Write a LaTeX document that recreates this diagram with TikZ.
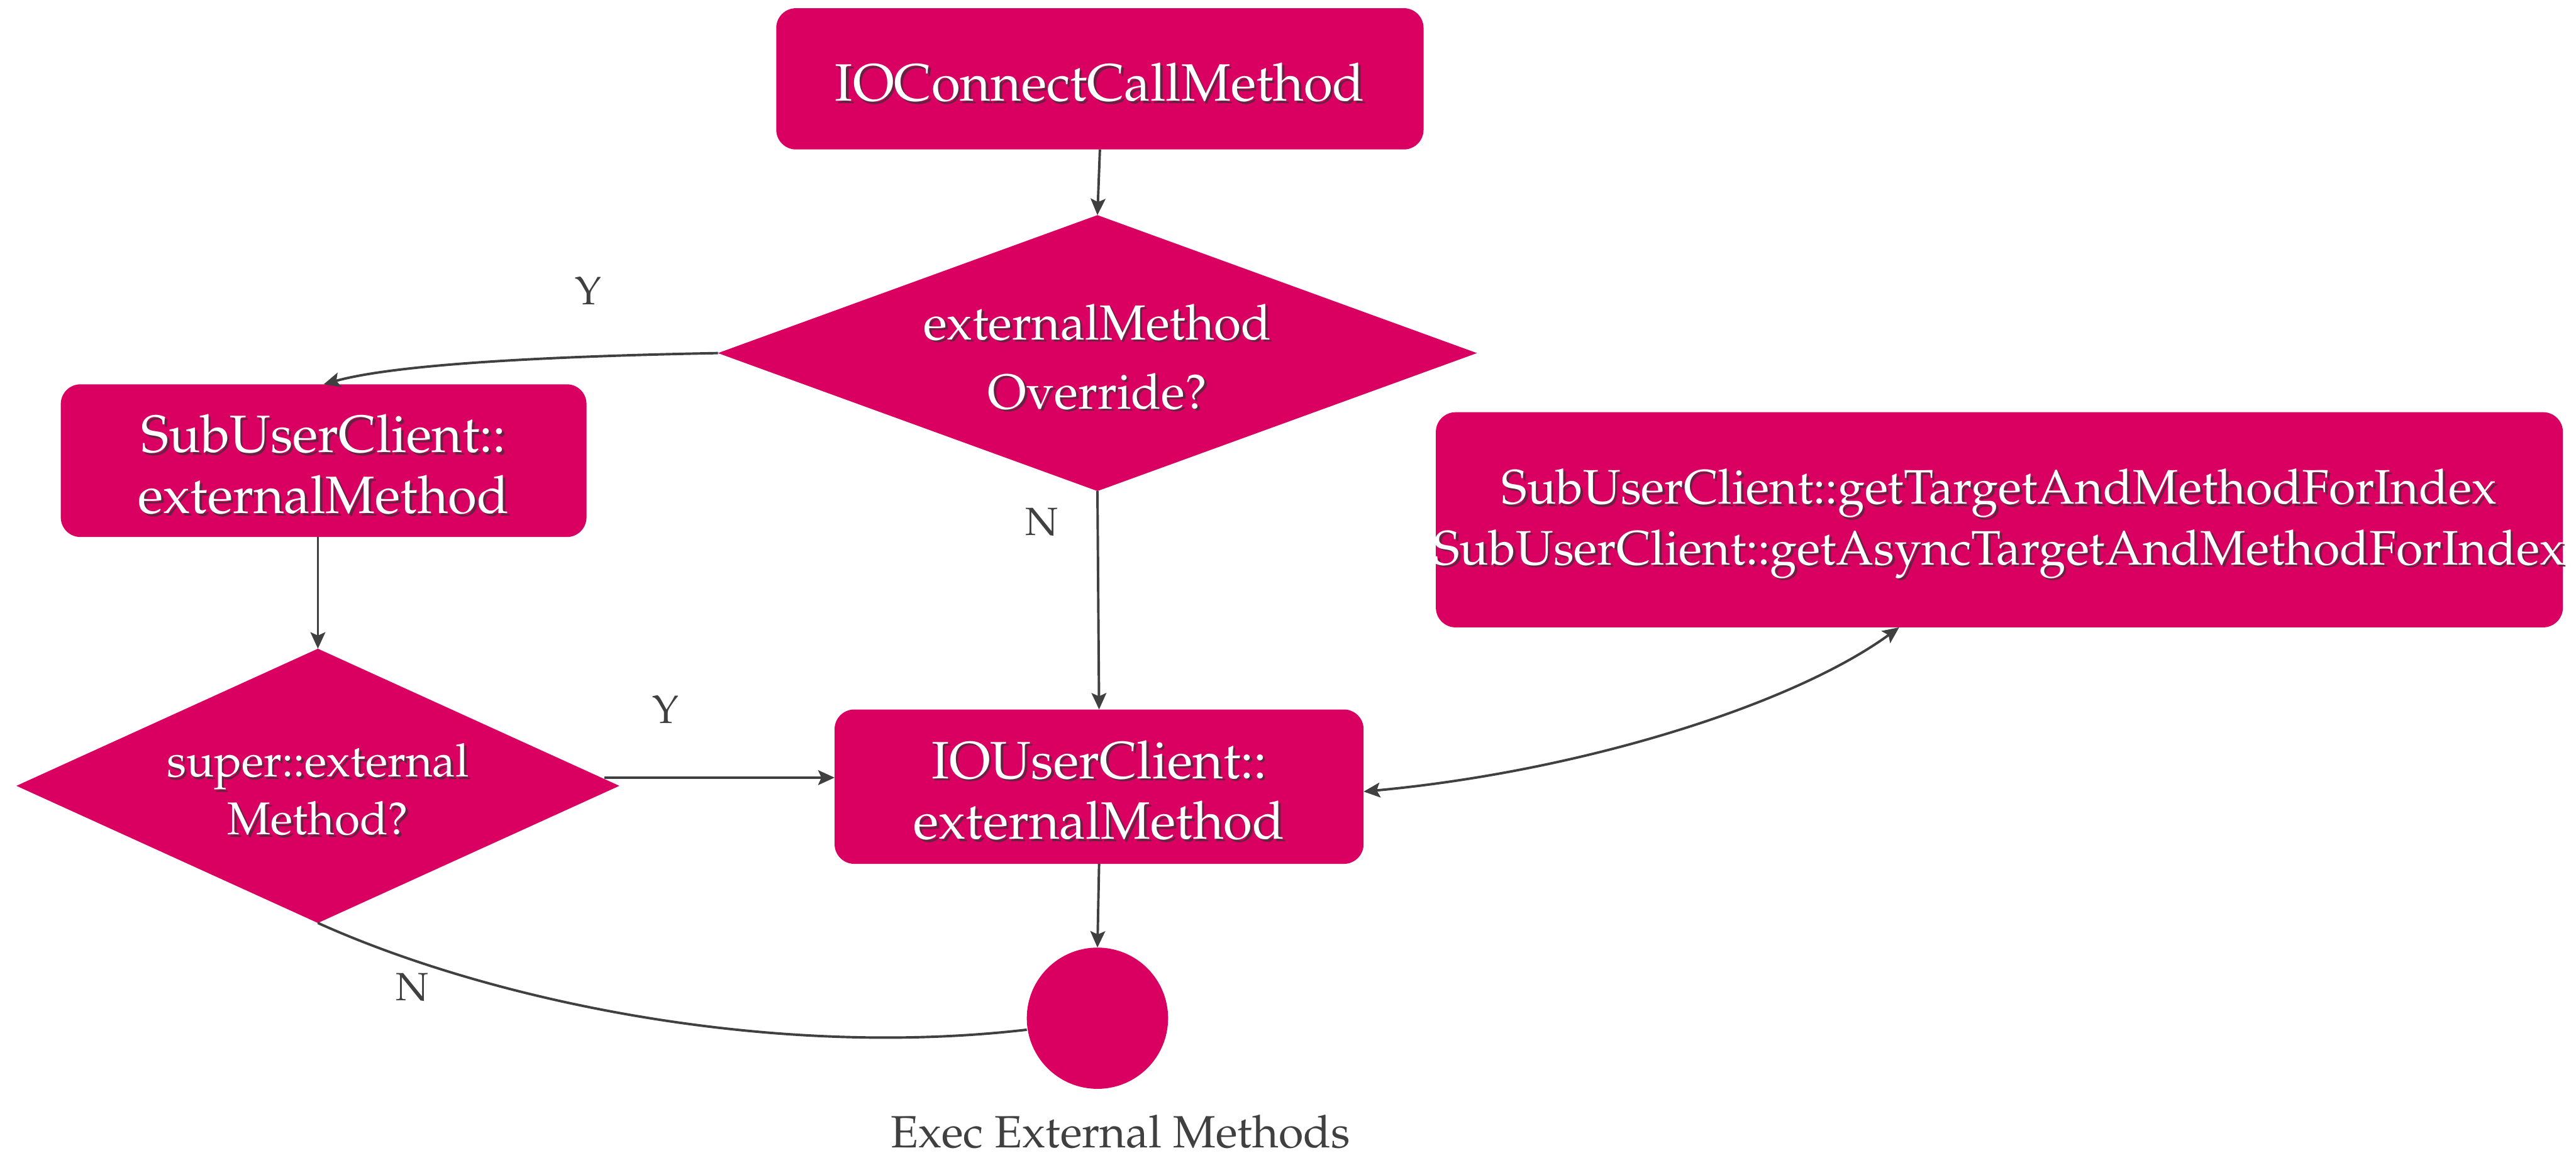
\documentclass[tikz,border=0pt]{standalone}
\usepackage[T1]{fontenc}
\usepackage{mathpazo}
\usetikzlibrary{arrows.meta,shapes.geometric,calc}
\definecolor{flowpink}{RGB}{217,0,98}
\definecolor{shadowc}{RGB}{100,35,65}
\definecolor{linegray}{RGB}{64,64,64}
% white label with a soft drop shadow
\newcommand\shd[1]{\makebox[0pt][l]{\hspace{1.4pt}\raisebox{-1.4pt}{\textcolor{shadowc}{#1}}}#1}

\begin{document}
\begin{tikzpicture}[x=1pt,y=-1pt,
  box/.style={fill=flowpink, draw=none, rounded corners=12pt, inner sep=0pt, outer sep=0pt},
  decision/.style={diamond, fill=flowpink, draw=none, inner sep=0pt, outer sep=0pt},
  terminal/.style={circle, fill=flowpink, draw=none, minimum size=86pt, inner sep=0pt, outer sep=0pt},
  inside/.style={text=white, align=center, inner sep=0pt, yshift=-3pt, font=\fontsize{32}{37}\selectfont},
  tip/.tip={Stealth[length=10pt,width=9pt,inset=2pt]},
  flow/.style={draw=linegray, line width=1.5pt, -tip},
  both/.style={draw=linegray, line width=1.5pt, tip-tip},
  plain/.style={draw=linegray, line width=1.5pt},
  lbl/.style={text=linegray, inner sep=0pt, font=\fontsize{24}{28}\selectfont}]
\useasboundingbox (0,0) rectangle (1568,702);

% shapes
\node[box, minimum width=394pt, minimum height=86pt] (start) at (669.5,48) {};
\node[decision, minimum width=462pt, minimum height=168pt] (d1) at (668,215) {};
\node[box, minimum width=320pt, minimum height=93pt] (sub) at (197,280.5) {};
\node[decision, minimum width=367pt, minimum height=167pt] (d2) at (193.5,478.5) {};
\node[box, minimum width=322pt, minimum height=94pt] (iou) at (669,479) {};
\node[box, minimum width=686pt, minimum height=131pt] (idx) at (1217,316.5) {};
\node[terminal] (exec) at (668,620) {};

% texts inside the shapes
\node[inside] (startT) at (start) {\shd{IOConnectCallMethod}};
\node[inside, font=\fontsize{30}{42}\selectfont] (d1T) at (d1) {\shd{externalMethod}\\\shd{Override?}};
\node[inside] (subT) at (sub) {\shd{SubUserClient::}\\\shd{externalMethod}};
\node[inside, font=\fontsize{28}{35}\selectfont] (d2T) at (d2) {\shd{super::external}\\\shd{Method?}};
\node[inside] (iouT) at (iou) {\shd{IOUserClient::}\\\shd{externalMethod}};
\node[inside, font=\fontsize{29.5}{37}\selectfont] (idxT) at (idx)
  {\shd{SubUserClient::getTargetAndMethodForIndex}\\\shd{SubUserClient::getAsyncTargetAndMethodForIndex}};
\node[lbl, font=\fontsize{27.5}{32}\selectfont] (execlbl) at (682,689) {Exec External Methods};

% branch labels
\node[lbl] (y1) at (358,177) {Y};
\node[lbl] (n1) at (634,318) {N};
\node[lbl] (y2) at (405,432) {Y};
\node[lbl] (n2) at (251,601) {N};

% connectors
\draw[flow] (start.south) -- (d1.north);
\draw[flow] (d1.west) .. controls (330,217) and (240,222) .. (sub.north);
\draw[flow] (d1.south) -- (iou.north);
\draw[flow] (sub.south -| d2.north) -- (d2.north);
\coordinate (d2out) at ($(d2.east)+(-9,-5)$);
\draw[flow] (d2out) -- (d2out -| iou.west);
\draw[both] ($(iou.east)+(0,3)$) .. controls (960,470) and (1090,430) .. ($(idx.south west)+(282,0)$);
\draw[flow] (iou.south) -- (exec.north);
\draw[plain] (d2.south) .. controls (300,610) and (470,645) .. ($(exec.west)+(0,7)$);
\end{tikzpicture}
\end{document}
